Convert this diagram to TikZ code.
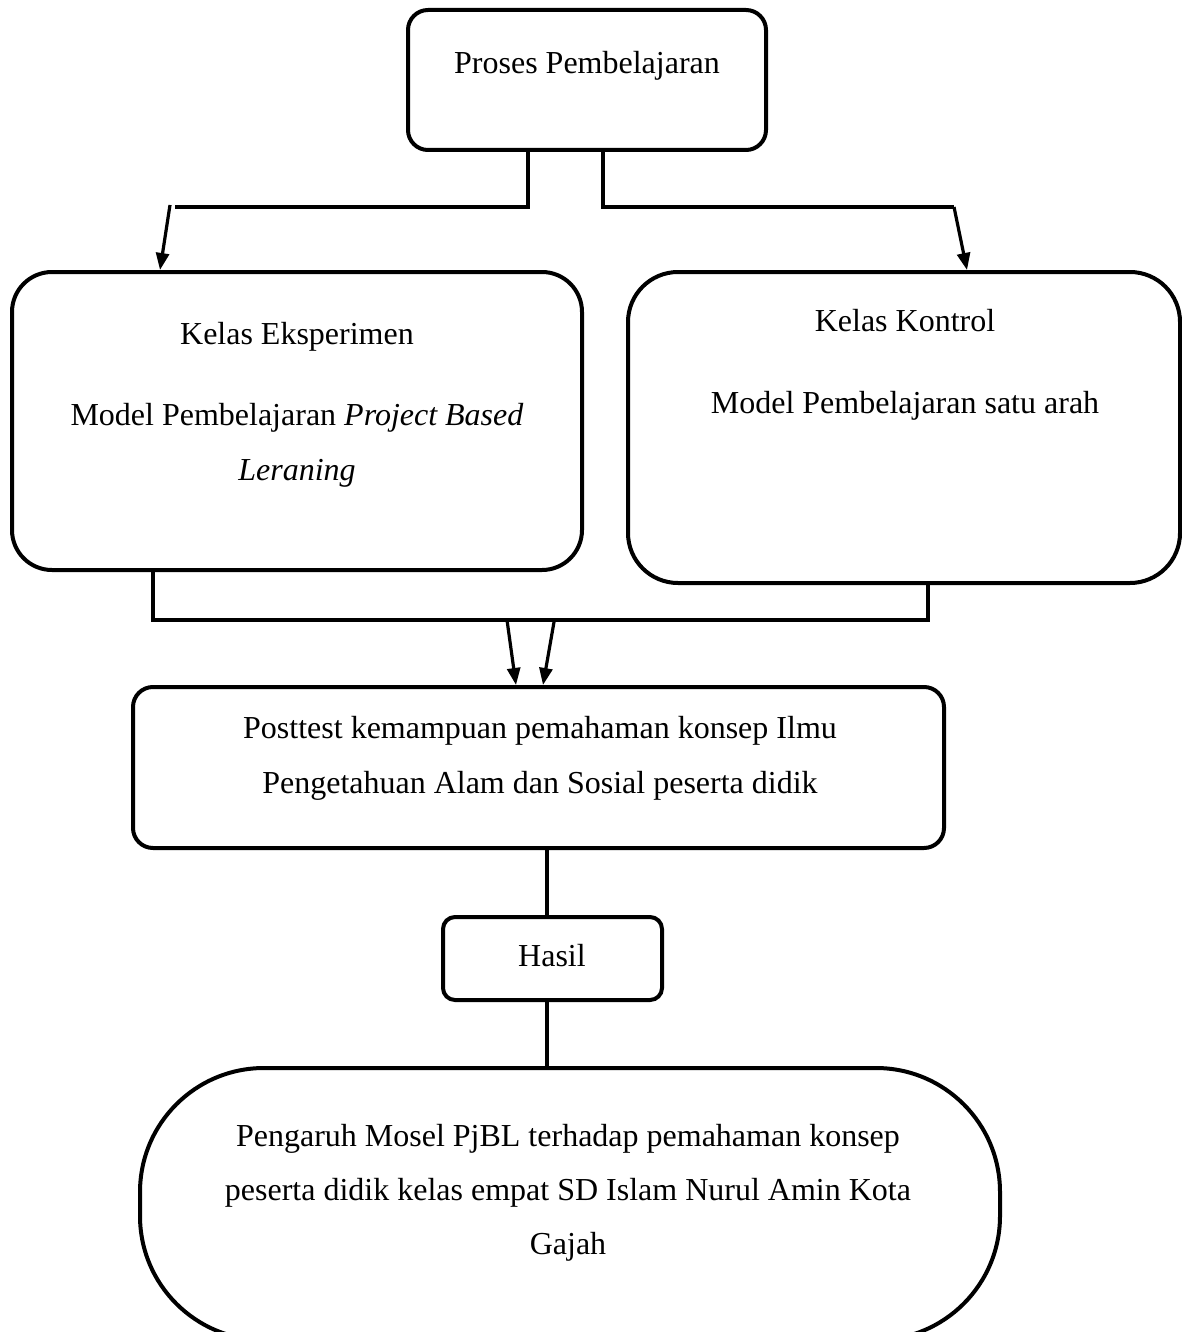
\documentclass[tikz,border=0pt]{standalone}
\usepackage{fontspec}
\setmainfont{Liberation Serif}
\usetikzlibrary{arrows.meta}

\tikzset{
    box/.style={draw, line width=2pt, inner sep=0},
    txt/.style={inner sep=0, align=center, font=\fontsize{16}{27.5}\selectfont},
    link/.style={line width=1.6pt},
    >={Triangle[length=8.5pt, width=6.5pt]}
}

\begin{document}
\begin{tikzpicture}[x=0.5pt, y=-0.5pt]
    \clip (0, 0) rectangle (1182, 1332);
    \fill[white] (0, 0) rectangle (1182, 1332);

    \node[box, minimum width=179pt, minimum height=70pt, rounded corners=10pt] (proses) at (587, 80) {};
    \node[txt] (proses-t) at (587, 66) {Proses Pembelajaran};

    \node[box, minimum width=285pt, minimum height=149pt, rounded corners=20pt] (eksp) at (297, 421) {};
    \node[txt] (eksp-t) at (297, 405) {Kelas Eksperimen\\[13pt] Model Pembelajaran \textit{Project Based}\\ \textit{Leraning}};

    \node[box, minimum width=276pt, minimum height=155.5pt, rounded corners=25pt] (kontrol) at (904, 427.5) {};
    \node[txt] (kontrol-t) at (905, 365) {Kelas Kontrol\\[13.5pt] Model Pembelajaran satu arah};

    \node[box, minimum width=405.5pt, minimum height=80.5pt, rounded corners=10pt] (post) at (538.5, 767.5) {};
    \node[txt] (post-t) at (540, 758.5) {Posttest kemampuan pemahaman konsep Ilmu\\ Pengetahuan Alam dan Sosial peserta didik};

    \node[box, minimum width=109.5pt, minimum height=41.5pt, rounded corners=6pt] (hasil) at (552.5, 958.5) {};
    \node[txt] (hasil-t) at (552, 956) {Hasil};

    \node[box, minimum width=430pt, minimum height=136pt, rounded corners=62pt] (pengaruh) at (570, 1204) {};
    \node[txt] (pengaruh-t) at (568, 1193) {Pengaruh Mosel PjBL terhadap pemahaman konsep\\[-0.5pt] peserta didik kelas empat SD Islam Nurul Amin Kota\\[-0.5pt] Gajah};

    \coordinate (tl) at (175, 207);
    \coordinate (al) at (170, 205);
    \coordinate (tr) at (954, 207);
    \draw[link] ([xshift=-29.5pt]proses.south) |- (tl);
    \draw[link, ->] (al) -- ([xshift=-68.5pt]eksp.north);
    \draw[link] ([xshift=8pt]proses.south) |- (tr);
    \draw[link, ->] (tr) -- ([xshift=31.5pt]kontrol.north);

    \coordinate (bl) at (153, 620);
    \coordinate (br) at (928, 620);
    \draw[link] (eksp.south -| bl) -- (bl) -- (br) -- (br |- kontrol.south);

    \coordinate (m1) at (507, 620);
    \coordinate (m2) at (554, 622);
    \draw[link, ->] (m1) -- ([xshift=-11.25pt]post.north);
    \draw[link, ->] (m2) -- ([xshift=2.25pt]post.north);

    \coordinate (hx) at ([xshift=-2.75pt]hasil.north);
    \coordinate (hy) at ([xshift=-2.75pt]hasil.south);
    \draw[link] (post.south -| hx) -- (hx);
    \draw[link] (hy) -- (hy |- pengaruh.north);
\end{tikzpicture}
\end{document}
